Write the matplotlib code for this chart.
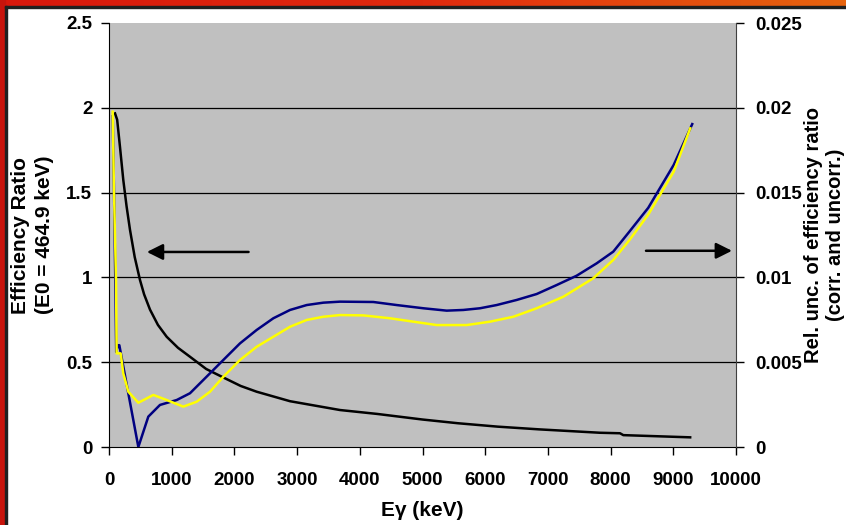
import matplotlib
matplotlib.use("Agg")
import matplotlib.pyplot as plt
import numpy as np
from matplotlib.colors import LinearSegmentedColormap
from matplotlib.patches import Rectangle

plt.rcParams['font.family'] = ['Liberation Sans', 'DejaVu Sans']
plt.rcParams['font.weight'] = 'bold'

# efficiency ratio (left axis)
e_ratio = [96, 130, 175, 228, 280, 335, 410, 494, 560, 654, 780, 920, 1100, 1292,
           1550, 1823, 2100, 2355, 2887, 3684, 4277, 5000, 5568, 6200, 6859, 7831,
           8150, 8203, 9269]
ratio = [1.967, 1.93, 1.77, 1.574, 1.42, 1.28, 1.12, 0.985, 0.9, 0.81, 0.72, 0.65,
         0.585, 0.532, 0.46, 0.41, 0.36, 0.326, 0.27, 0.218, 0.195, 0.162, 0.14,
         0.12, 0.104, 0.084, 0.081, 0.07, 0.057]

# rel. uncertainty, correlated (right axis)
e_corr = [59, 80, 100, 115, 140, 165, 468, 627, 813, 1080, 1292, 1558, 1823, 2089,
          2355, 2621, 2887, 3153, 3418, 3684, 4216, 4588, 5013, 5386, 5651, 5917,
          6183, 6502, 6821, 7140, 7459, 7778, 8043, 8300, 8600, 9006, 9302]
unc_corr = [0.0195, 0.015, 0.010, 0.0056, 0.0060, 0.0060, 0.0, 0.00179, 0.00248,
            0.00277, 0.00317, 0.00415, 0.00513, 0.00611, 0.0069, 0.00759, 0.00808,
            0.00837, 0.00851, 0.00857, 0.00855, 0.00837, 0.00818, 0.00804, 0.00808,
            0.00818, 0.00837, 0.00867, 0.00902, 0.00955, 0.0101, 0.01083, 0.01152,
            0.0127, 0.0141, 0.01663, 0.01904]

# rel. uncertainty, uncorrelated (right axis)
e_uncorr = [59, 80, 112, 122, 186, 228, 308, 468, 707, 920, 1185, 1398, 1611, 1823,
            2089, 2355, 2621, 2887, 3153, 3418, 3684, 4056, 4482, 4854, 5226, 5705,
            6077, 6449, 6821, 7246, 7724, 8043, 8300, 8600, 9006, 9270]
unc_uncorr = [0.01977, 0.01496, 0.00985, 0.00552, 0.00552, 0.00434, 0.00326,
              0.00261, 0.00307, 0.00277, 0.00238, 0.00267, 0.00326, 0.00414,
              0.00513, 0.00591, 0.0065, 0.00709, 0.00749, 0.00768, 0.00778,
              0.00776, 0.00759, 0.00739, 0.00719, 0.00719, 0.00739, 0.00768,
              0.00818, 0.00886, 0.00995, 0.01103, 0.0122, 0.0137, 0.01623, 0.01879]

xticks = [0, 1000, 2000, 3000, 4000, 5000, 6000, 7000, 8000, 9000, 10000]
lticks = [0, 0.5, 1, 1.5, 2, 2.5]
lticklabels = ["0", "0.5", "1", "1.5", "2", "2.5"]
rticks = [0, 0.005, 0.01, 0.015, 0.02, 0.025]
rticklabels = ["0", "0.005", "0.01", "0.015", "0.02", "0.025"]

fig = plt.figure(figsize=(8.46, 5.25), dpi=100)
fig.patch.set_facecolor('white')

ax = fig.add_axes([109 / 846, 1 - 447 / 525, 627 / 846, 424 / 525])
ax.set_facecolor('#C0C0C0')
for g in lticks[1:-1]:
    ax.axhline(g, color='black', lw=0.9, zorder=1)
ax.plot(e_ratio, ratio, color='black', lw=1.8, zorder=3)
ax.set_xlim(0, 10000)
ax.set_ylim(0, 2.5)
ax.set_xticks(xticks)
ax.set_xticklabels([str(t) for t in xticks], fontsize=13.5, fontweight='bold')
ax.set_yticks(lticks)
ax.set_yticklabels(lticklabels, fontsize=13.5, fontweight='bold')
ax.tick_params(axis='x', length=6, width=1, pad=12)
ax.tick_params(axis='y', length=6, width=1, pad=6)
ax.spines['top'].set_visible(False)
ax.spines['right'].set_visible(False)
ax.set_xlabel("E\u03b3 (keV)", fontsize=15, fontweight='bold', labelpad=9)
ax.set_ylabel("Efficiency Ratio\n(E0 = 464.9 keV)", fontsize=15, fontweight='bold',
              labelpad=9, linespacing=1.3)

ax.annotate("", xy=(560, 1.15), xytext=(2270, 1.15),
            arrowprops=dict(arrowstyle='-|>', color='black', lw=1.8, mutation_scale=24))
ax.annotate("", xy=(9980, 1.157), xytext=(8520, 1.157),
            arrowprops=dict(arrowstyle='-|>', color='black', lw=1.8, mutation_scale=24))

ax2 = ax.twinx()
ax2.plot(e_corr, unc_corr, color='#000080', lw=1.8)
ax2.plot(e_uncorr, unc_uncorr, color='#FFFF00', lw=1.8)
ax2.set_ylim(0, 0.025)
ax2.set_yticks(rticks)
ax2.set_yticklabels(rticklabels, fontsize=13.5, fontweight='bold')
ax2.tick_params(axis='y', length=6, width=1, pad=8)
ax2.spines['top'].set_visible(False)
ax2.spines['left'].set_visible(False)
ax2.spines['bottom'].set_visible(False)
ax2.spines['right'].set_color('#404040')
ax2.set_ylabel("Rel. unc. of efficiency ratio\n(corr. and uncorr.)", fontsize=14.5,
               fontweight='bold', labelpad=1, linespacing=1.25)

# slide border (red/orange strips)
fig.patches.append(Rectangle((0, 0), 5 / 846, 1, transform=fig.transFigure,
                             color='#C8140C', zorder=5))
fig.patches.append(Rectangle((5 / 846, 0), 1.5 / 846, 1 - 6 / 525,
                             transform=fig.transFigure, color='#202020', zorder=5))
fig.patches.append(Rectangle((5 / 846, 1 - 7.5 / 525), 1, 1.5 / 525,
                             transform=fig.transFigure, color='#202020', zorder=5))
top = fig.add_axes([0, 1 - 6 / 525, 1, 6 / 525])
cmap = LinearSegmentedColormap.from_list('border', ['#D8180C', '#E02A0E', '#E8640E'])
top.imshow(np.linspace(0, 1, 200)[None, :], aspect='auto', cmap=cmap)
top.set_axis_off()

fig.savefig("out.png", dpi=100)
